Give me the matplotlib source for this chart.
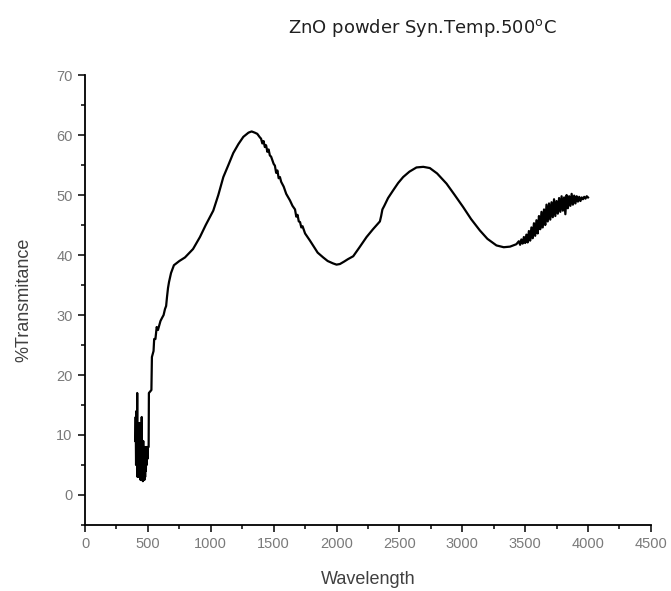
import matplotlib
matplotlib.use('Agg')
import matplotlib.pyplot as plt
from matplotlib.ticker import MultipleLocator

# Transmittance spectrum
wavelength_uv = [400, 403, 406, 409, 412, 415, 418, 421, 424, 427, 430, 433, 436, 439, 442,
                 445, 448, 451, 454, 457, 460, 463, 466, 469, 472, 475, 478, 481, 484, 487,
                 490, 493, 496, 500]
trans_uv = [9, 13, 5, 14, 6, 17, 3, 11, 4, 9, 3, 12, 5, 8, 2.5,
            10, 4, 13, 3, 7, 2.3, 9, 3, 6, 2.5, 8, 3, 7, 4, 8,
            5, 8, 6, 8]

wavelength_mid = [506, 508, 528, 532, 545, 550, 560, 570, 580, 600, 612, 625, 636, 645, 652,
                  660, 668, 684, 707, 750, 795, 859, 914, 960, 1020, 1060, 1100, 1140, 1179,
                  1220, 1259, 1300, 1325, 1350, 1370, 1391, 1400, 1410, 1420, 1430, 1440,
                  1450, 1460, 1470, 1480, 1490, 1500, 1510, 1520, 1530, 1540, 1550, 1560,
                  1580, 1600, 1630, 1650, 1670, 1680, 1690, 1700, 1710, 1720, 1730, 1750,
                  1770, 1789, 1820, 1850, 1894, 1930, 1973, 2000, 2027, 2060, 2090, 2133,
                  2180, 2239, 2290, 2345, 2355, 2365, 2380, 2410, 2451, 2490, 2530, 2580,
                  2636, 2690, 2742, 2800, 2875, 2940, 3007, 3070, 3140, 3200, 3272, 3330,
                  3380, 3430]
trans_mid = [8, 17, 17.5, 23, 24, 26, 26, 28, 27.5, 29, 29.5, 30, 31, 31.5, 33,
             34.5, 35.5, 37, 38.3, 39, 39.6, 41, 43, 45, 47.4, 50, 53, 55, 57,
             58.5, 59.7, 60.4, 60.6, 60.4, 60.2, 59.6, 59.4, 58.6, 59.0, 58.0, 58.3,
             57.2, 57.6, 56.6, 56.4, 55.8, 55.2, 54.9, 53.7, 54.1, 52.8, 53.0, 52.2,
             51.4, 50.2, 49.1, 48.2, 47.6, 46.4, 46.7, 45.6, 45.5, 44.6, 44.8, 43.6,
             43.0, 42.4, 41.4, 40.4, 39.6, 39.0, 38.6, 38.4, 38.5, 38.9, 39.3, 39.8,
             41.2, 43.0, 44.3, 45.6, 46.5, 47.6, 48.2, 49.5, 50.8, 52.0, 53.0, 53.9,
             54.6, 54.7, 54.5, 53.6, 51.9, 50.0, 48.0, 46.0, 44.1, 42.7, 41.6, 41.3,
             41.4, 41.8]

wavelength_ir = [3450, 3460, 3470, 3480, 3490, 3500, 3510, 3520, 3530, 3540, 3550, 3560,
                 3570, 3580, 3590, 3600, 3610, 3620, 3630, 3640, 3650, 3660, 3670, 3680,
                 3690, 3700, 3710, 3720, 3730, 3740, 3750, 3760, 3770, 3780, 3790, 3800,
                 3810, 3820, 3830, 3840, 3850, 3860, 3870, 3880, 3890, 3900, 3910, 3920,
                 3930, 3940, 3950, 3960, 3970, 3980, 3990, 4000]
trans_ir = [42.3, 41.7, 42.6, 41.9, 43.0, 42.0, 43.4, 42.1, 44.0, 42.4, 44.6, 42.8,
            45.3, 43.2, 45.8, 43.6, 46.5, 44.3, 47.2, 44.6, 47.6, 45.0, 48.4, 45.6,
            48.6, 45.9, 48.8, 46.3, 49.3, 46.5, 49.0, 46.9, 49.5, 47.2, 49.8, 47.4,
            49.6, 46.8, 50.0, 47.8, 49.8, 48.2, 50.2, 48.4, 49.9, 48.6, 49.8, 48.9,
            49.7, 49.0, 49.6, 49.3, 49.7, 49.4, 49.8, 49.6]

wavelength = wavelength_uv + wavelength_mid + wavelength_ir
transmittance = trans_uv + trans_mid + trans_ir

fig = plt.figure(figsize=(6.71, 5.91), dpi=100)
ax = fig.add_axes([0.1267, 0.1117, 0.8433, 0.7613])

ax.plot(wavelength, transmittance, color='black', linewidth=1.6)

ax.set_xlim(0, 4500)
ax.set_ylim(-5, 70)
ax.xaxis.set_major_locator(MultipleLocator(500))
ax.xaxis.set_minor_locator(MultipleLocator(250))
ax.yaxis.set_major_locator(MultipleLocator(10))
ax.yaxis.set_minor_locator(MultipleLocator(5))

for side in ['top', 'right']:
    ax.spines[side].set_visible(False)
for side in ['left', 'bottom']:
    ax.spines[side].set_linewidth(1.3)

ax.tick_params(which='major', direction='out', length=5, width=1.1,
               labelsize=10.5, labelcolor='#7a7a7a', pad=4)
ax.tick_params(which='minor', direction='out', length=3, width=1.1)
for lab in ax.get_xticklabels() + ax.get_yticklabels():
    lab.set_family('Liberation Sans')

ax.set_xlabel('Wavelength', fontsize=13, color='#404040', family='Liberation Sans', labelpad=14)
ax.set_ylabel('%Transmitance', fontsize=13, color='#404040', family='Liberation Sans', labelpad=17)

fig.text(422 / 671, 1 - 28 / 591, r'ZnO powder Syn.Temp.500$^\mathrm{o}$C',
         ha='center', va='center', fontsize=13, color='#202020', family='DejaVu Sans')

fig.savefig('out.png', dpi=100)
